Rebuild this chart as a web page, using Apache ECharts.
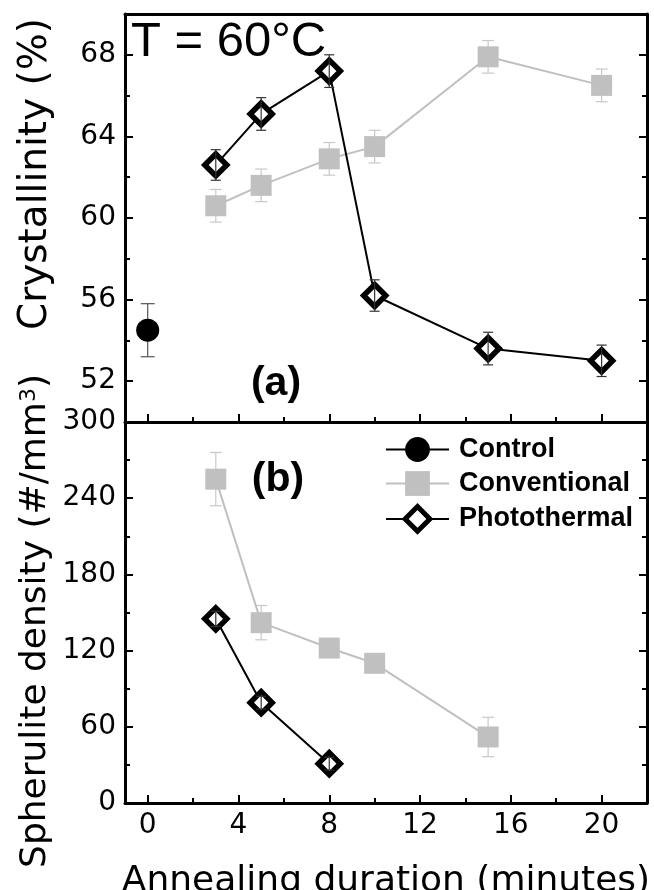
<!DOCTYPE html>
<html><head><meta charset="utf-8">
<script src="https://cdn.jsdelivr.net/npm/echarts@6/dist/echarts.min.js"></script>
<style>html,body{margin:0;padding:0;background:#fff}#c{width:654px;height:890px}</style>
</head><body><div id="c"></div>
<script>
// ---- data ----
const ctrlX = [0];
const ctrlCryst = [54.5];
const ctrlCrystErr = [1.3];

const convX = [3, 5, 8, 10, 15, 20];
const convCryst = [60.6, 61.6, 62.9, 63.5, 67.9, 66.5];
const convCrystErr = [0.8, 0.8, 0.8, 0.8, 0.8, 0.8];

const photoX = [3, 5, 8, 10, 15, 20];
const photoCryst = [62.6, 65.1, 67.2, 56.2, 53.6, 53.0];
const photoCrystErr = [0.75, 0.8, 0.8, 0.77, 0.8, 0.77];

const convDensX = [3, 5, 8, 10, 15];
const convDens = [255, 142, 122, 110, 52];
const convDensErr = [21, 13.5, 4, 3, 15.5];

const photoDensX = [3, 5, 8];
const photoDens = [145, 79, 31];
const photoDensErr = [6, 5, 5];

const xMajor = [0, 4, 8, 12, 16, 20];
const xMinor = [2, 6, 10, 14, 18];
const yTopMajor = [52, 56, 60, 64, 68];
const yTopMinor = [54, 58, 62, 66];
const yBotMajor = [0, 60, 120, 180, 240, 300];
const yBotMinor = [30, 90, 150, 210, 270];

// ---- helpers ----
const pairs = (xs, ys) => xs.map((x, i) => [x, ys[i]]);
const errs = (xs, ys, es) => xs.map((x, i) => [x, ys[i] - es[i], ys[i] + es[i]]);
const LW = 3;
const lineAx = { show: true, onZero: false, lineStyle: { color: '#000', width: LW } };
const noLine = { show: false, onZero: false };

function xAxis(grid, line, ticks, len, labels, extra) {
  return Object.assign({
    type: 'value', gridIndex: grid, min: -1, max: 22, position: 'bottom',
    splitLine: { show: false },
    axisLine: line ? lineAx : noLine,
    axisTick: ticks ? { show: true, inside: true, length: len, customValues: ticks, lineStyle: { color: '#000', width: 2 } } : { show: false },
    axisLabel: labels ? { show: true, customValues: labels, margin: 9, fontFamily: 'DejaVu Sans', fontSize: 28, color: '#000' } : { show: false }
  }, extra || {});
}
function yAxis(grid, min, max, pos, line, ticks, len, labels) {
  return {
    type: 'value', gridIndex: grid, min: min, max: max, position: pos,
    splitLine: { show: false },
    axisLine: line ? lineAx : noLine,
    axisTick: ticks ? { show: true, inside: true, length: len, customValues: ticks, lineStyle: { color: '#000', width: 2 } } : { show: false },
    axisLabel: labels ? { show: true, customValues: labels, margin: 9, fontFamily: 'DejaVu Sans', fontSize: 28, color: '#000' } : { show: false }
  };
}

function errRender(color, cap) {
  return function (params, api) {
    const x = api.value(0), lo = api.value(1), hi = api.value(2);
    const a = api.coord([x, hi]), b = api.coord([x, lo]);
    const st = { stroke: color, lineWidth: 1.2 };
    return { type: 'group', children: [
      { type: 'line', shape: { x1: a[0], y1: a[1], x2: b[0], y2: b[1] }, style: st },
      { type: 'line', shape: { x1: a[0] - cap, y1: a[1], x2: a[0] + cap, y2: a[1] }, style: st },
      { type: 'line', shape: { x1: b[0] - cap, y1: b[1], x2: b[0] + cap, y2: b[1] }, style: st }
    ] };
  };
}

const GRAY = '#c0c0c0';
const convStyle = {
  type: 'line', symbol: 'rect', symbolSize: 21,
  itemStyle: { color: GRAY },
  lineStyle: { color: GRAY, width: 2 }
};
const photoStyle = {
  type: 'line', symbol: 'diamond', symbolSize: 22,
  itemStyle: { color: '#fff', borderColor: '#000', borderWidth: 5.5 },
  lineStyle: { color: '#000', width: 2 }
};

const chart = echarts.init(document.getElementById('c'), null, { renderer: 'canvas' });
chart.setOption({
  animation: false,
  backgroundColor: '#fff',
  grid: [
    { left: 125, top: 14, width: 522, height: 408, containLabel: false, outerBoundsMode: 'none' },
    { left: 125, top: 422, width: 522, height: 381, containLabel: false, outerBoundsMode: 'none' }
  ],
  xAxis: [
    xAxis(0, true, xMajor, 8, null),
    xAxis(0, false, xMinor, 5, null),
    xAxis(0, true, null, 0, null, { position: 'top' }),
    xAxis(1, true, xMajor, 8, xMajor, {
      name: 'Annealing duration (minutes)', nameLocation: 'middle', nameGap: 61,
      nameTextStyle: { fontFamily: 'DejaVu Sans', fontSize: 36, color: '#000' }
    }),
    xAxis(1, false, xMinor, 5, null)
  ],
  yAxis: [
    yAxis(0, 50, 70, 'left', true, yTopMajor, 8, yTopMajor),
    yAxis(0, 50, 70, 'left', false, yTopMinor, 5, null),
    yAxis(0, 50, 70, 'right', true, yTopMajor, 8, null),
    yAxis(0, 50, 70, 'right', false, yTopMinor, 5, null),
    yAxis(1, 0, 300, 'left', true, yBotMajor, 8, yBotMajor),
    yAxis(1, 0, 300, 'left', false, yBotMinor, 5, null),
    yAxis(1, 0, 300, 'right', true, yBotMajor, 8, null),
    yAxis(1, 0, 300, 'right', false, yBotMinor, 5, null)
  ],
  legend: {
    data: [
      { name: 'Control', itemStyle: { color: '#000' } },
      { name: 'Conventional', itemStyle: { color: GRAY } },
      { name: 'Photothermal', itemStyle: { color: '#fff', borderColor: '#000', borderWidth: 5 } }
    ],
    orient: 'vertical', left: 380, top: 431,
    itemWidth: 63, itemHeight: 31, itemGap: 7,
    selectedMode: false,
    textStyle: { fontFamily: 'Liberation Sans', fontWeight: 'bold', fontSize: 27, color: '#000', padding: [0, 0, 0, 5] }
  },
  graphic: [
    { type: 'text', x: 131, y: 42, z: 100,
      style: { text: 'T = 60°C', fontFamily: 'Liberation Sans', fontSize: 49, fill: '#000', align: 'left', verticalAlign: 'middle' } },
    { type: 'text', x: 276, y: 384, z: 100,
      style: { text: '(a)', fontFamily: 'Liberation Sans', fontWeight: 'bold', fontSize: 41, fill: '#000', align: 'center', verticalAlign: 'middle' } },
    { type: 'text', x: 278, y: 480, z: 100,
      style: { text: '(b)', fontFamily: 'Liberation Sans', fontWeight: 'bold', fontSize: 41, fill: '#000', align: 'center', verticalAlign: 'middle' } },
    { type: 'text', x: 36, y: 174, rotation: Math.PI / 2, z: 100,
      style: { text: 'Crystallinity (%)', fontFamily: 'DejaVu Sans', fontSize: 39, fill: '#000', align: 'center', verticalAlign: 'middle' } },
    { type: 'text', x: 36, y: 621, rotation: Math.PI / 2, z: 100,
      style: { text: '{a|Spherulite density (#/mm}{s|3}{a|)}', fill: '#000', align: 'center', verticalAlign: 'middle',
        rich: { a: { fontFamily: 'DejaVu Sans', fontSize: 36, fill: '#000' },
                s: { fontFamily: 'DejaVu Sans', fontSize: 22, fill: '#000', verticalAlign: 'top' } } } }
  ],
  series: [
    { type: 'custom', name: 'ctrlErr', xAxisIndex: 0, yAxisIndex: 0, renderItem: errRender('#555', 7), data: errs(ctrlX, ctrlCryst, ctrlCrystErr), silent: true },
    { name: 'Control', type: 'line', xAxisIndex: 0, yAxisIndex: 0, symbol: 'circle', symbolSize: 23,
      itemStyle: { color: '#000' }, lineStyle: { color: '#000', width: 2 }, data: pairs(ctrlX, ctrlCryst), emphasis: { disabled: true } },

    { type: 'custom', name: 'convErrA', xAxisIndex: 0, yAxisIndex: 0, renderItem: errRender('#c8c8c8', 6), data: errs(convX, convCryst, convCrystErr), silent: true },
    Object.assign({ name: 'Conventional', xAxisIndex: 0, yAxisIndex: 0, data: pairs(convX, convCryst), emphasis: { disabled: true } }, convStyle),

    Object.assign({ name: 'Photothermal', xAxisIndex: 0, yAxisIndex: 0, data: pairs(photoX, photoCryst), emphasis: { disabled: true } }, photoStyle),
    { type: 'custom', name: 'photoErrA', xAxisIndex: 0, yAxisIndex: 0, renderItem: errRender('#333', 5), data: errs(photoX, photoCryst, photoCrystErr), silent: true, z: 5 },

    { type: 'custom', name: 'convErrB', xAxisIndex: 3, yAxisIndex: 4, renderItem: errRender('#c8c8c8', 6), data: errs(convDensX, convDens, convDensErr), silent: true },
    Object.assign({ name: 'Conventional', xAxisIndex: 3, yAxisIndex: 4, data: pairs(convDensX, convDens), emphasis: { disabled: true } }, convStyle),

    Object.assign({ name: 'Photothermal', xAxisIndex: 3, yAxisIndex: 4, data: pairs(photoDensX, photoDens), emphasis: { disabled: true } }, photoStyle),
    { type: 'custom', name: 'photoErrB', xAxisIndex: 3, yAxisIndex: 4, renderItem: errRender('#333', 5), data: errs(photoDensX, photoDens, photoDensErr), silent: true, z: 5 }
  ]
});
</script>
</body></html>
